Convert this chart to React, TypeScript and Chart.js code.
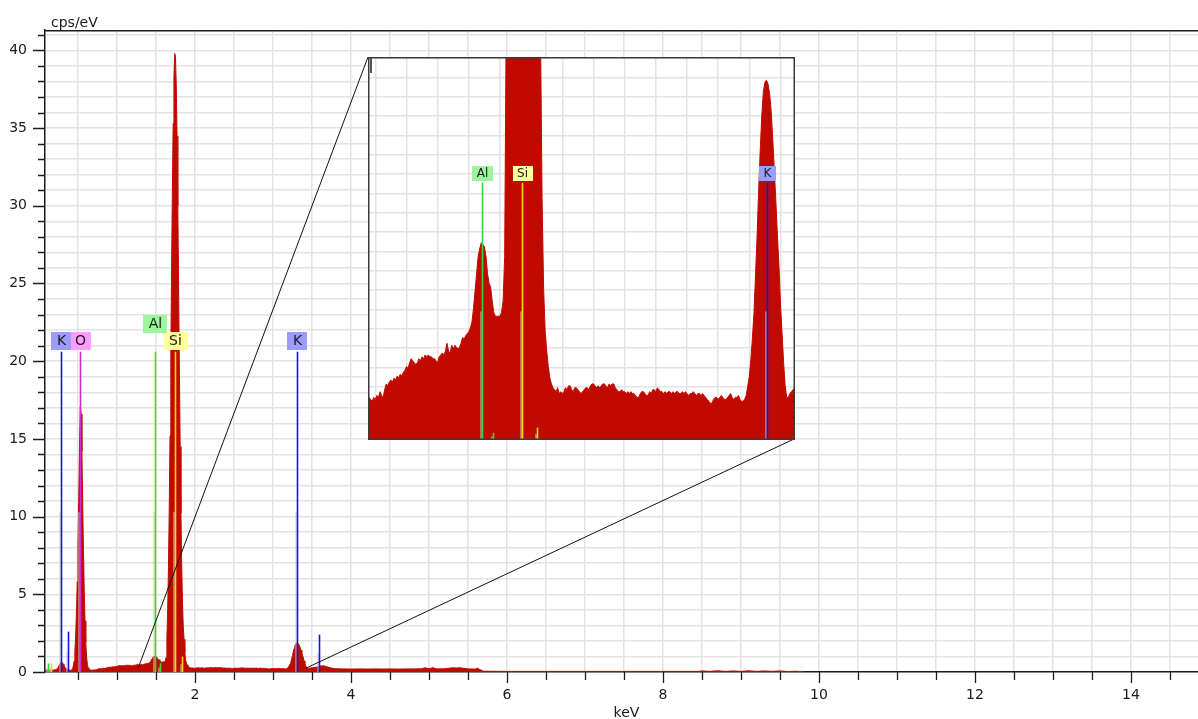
import { useEffect, useRef } from 'react';
import { Chart, registerables } from 'chart.js';

Chart.register(...registerables);
Chart.defaults.font.family = "'DejaVu Sans', sans-serif";

// ---- spectrum: 10 eV channels from 0.08 keV to 3.50 keV ----
const CHANNEL_START_KEV = 0.08;
const CHANNEL_WIDTH_KEV = 0.01;
const lowEnergyCounts = [
  0.12, 0.12,
  0.13, 0.12, 0.13, 0.12, 0.11, 0.12, 0.12, 0.13, 0.12, 0.13, // 0.10
  0.14, 0.15, 0.17, 0.20, 0.26, 0.34, 0.44, 0.54, 0.61, 0.64, // 0.20
  0.60, 0.52, 0.42, 0.33, 0.25, 0.19, 0.15, 0.13, 0.12, 0.12, // 0.30
  0.11, 0.12, 0.13, 0.20, 0.38, 0.70, 1.3, 2.3, 3.8, 5.8, // 0.40
  8.3, 11.3, 14.6, 17.1, 16.6, 14.2, 11.0, 7.9, 5.3, 3.3, // 0.50
  1.9, 1.0, 0.5, 0.27, 0.18, 0.14, 0.13, 0.13, 0.12, 0.13, // 0.60
  0.13, 0.14, 0.13, 0.14, 0.15, 0.16, 0.22, 0.21, 0.20, 0.22, // 0.70
  0.21, 0.23, 0.22, 0.25, 0.23, 0.22, 0.26, 0.29, 0.28, 0.30, // 0.80
  0.31, 0.30, 0.32, 0.31, 0.33, 0.32, 0.34, 0.33, 0.35, 0.36, // 0.90
  0.38, 0.37, 0.40, 0.42, 0.41, 0.40, 0.39, 0.40, 0.42, 0.41, // 1.00
  0.43, 0.42, 0.44, 0.43, 0.44, 0.43, 0.43, 0.42, 0.42, 0.41, // 1.10
  0.40, 0.43, 0.44, 0.45, 0.44, 0.46, 0.50, 0.46, 0.45, 0.49, // 1.20
  0.47, 0.49, 0.48, 0.47, 0.48, 0.50, 0.53, 0.52, 0.54, 0.55, // 1.30
  0.56, 0.58, 0.61, 0.68, 0.77, 0.86, 0.95, 0.99, 1.02, 1.01, // 1.40
  1.00, 0.95, 0.86, 0.81, 0.79, 0.72, 0.66, 0.64, 0.64, 0.64, // 1.50
  0.64, 0.66, 0.72, 0.95, 2.2, 4.0, 6.8, 10.5, 15.2, 20.5, // 1.60
  26.0, 31.0, 35.3, 38.3, 39.8, 39.6, 37.8, 34.5, 30.0, 24.8, // 1.70
  19.5, 14.5, 10.2, 6.8, 4.4, 2.9, 2.1, 1.25, 0.78, 0.56, // 1.80
  0.46, 0.38, 0.32, 0.29, 0.27, 0.26, 0.25, 0.27, 0.24, 0.25, // 1.90
  0.24, 0.25, 0.27, 0.26, 0.28, 0.28, 0.26, 0.25, 0.27, 0.27, // 2.00
  0.26, 0.25, 0.24, 0.25, 0.26, 0.27, 0.27, 0.26, 0.28, 0.29, // 2.10
  0.29, 0.28, 0.27, 0.28, 0.27, 0.28, 0.29, 0.29, 0.28, 0.27, // 2.20
  0.29, 0.28, 0.29, 0.29, 0.27, 0.26, 0.25, 0.25, 0.26, 0.25, // 2.30
  0.25, 0.24, 0.25, 0.24, 0.25, 0.24, 0.24, 0.23, 0.22, 0.22, // 2.40
  0.24, 0.25, 0.25, 0.24, 0.23, 0.23, 0.25, 0.24, 0.26, 0.26, // 2.50
  0.25, 0.27, 0.26, 0.25, 0.25, 0.24, 0.25, 0.24, 0.25, 0.25, // 2.60
  0.24, 0.25, 0.24, 0.25, 0.25, 0.24, 0.24, 0.25, 0.24, 0.25, // 2.70
  0.24, 0.23, 0.24, 0.24, 0.25, 0.24, 0.23, 0.24, 0.24, 0.23, // 2.80
  0.24, 0.23, 0.22, 0.21, 0.20, 0.19, 0.19, 0.21, 0.22, 0.22, // 2.90
  0.21, 0.22, 0.23, 0.22, 0.21, 0.21, 0.22, 0.23, 0.24, 0.22, // 3.00
  0.21, 0.22, 0.22, 0.23, 0.21, 0.20, 0.20, 0.21, 0.23, 0.28, // 3.10
  0.33, 0.42, 0.53, 0.66, 0.86, 1.06, 1.30, 1.50, 1.68, 1.80, // 3.20
  1.85, 1.86, 1.84, 1.79, 1.70, 1.56, 1.40, 1.24, 1.06, 0.90, // 3.30
  0.70, 0.55, 0.40, 0.28, 0.22, 0.22, 0.24, 0.25, 0.26, 0.27, // 3.40
  0.26, // 3.50
];

// ---- spectrum above 3.5 keV (coarser sampling) ----
const tailEnergies = [
  3.55, 3.6, 3.65, 3.7, 3.75, 3.8, 3.9, 4.0, 4.1, 4.2,
  4.3, 4.4, 4.5, 4.6, 4.7, 4.8, 4.9, 4.95, 5.0, 5.05,
  5.1, 5.2, 5.3, 5.35, 5.4, 5.5, 5.6, 5.62, 5.65, 5.7,
  6.0, 6.5, 7.0, 7.5, 8.0, 8.45, 8.5, 8.6, 8.7, 8.8,
  8.9, 9.0, 9.1, 9.2, 9.3, 9.4, 9.5, 9.6, 9.7, 9.8,
];
const tailCounts = [
  0.3, 0.38, 0.4, 0.32, 0.25, 0.21, 0.2, 0.19, 0.2, 0.19,
  0.2, 0.19, 0.2, 0.19, 0.2, 0.2, 0.21, 0.27, 0.21, 0.28,
  0.2, 0.21, 0.27, 0.26, 0.27, 0.2, 0.19, 0.25, 0.16, 0.05,
  0.04, 0.04, 0.04, 0.04, 0.04, 0.04, 0.07, 0.04, 0.08, 0.04,
  0.07, 0.04, 0.08, 0.04, 0.07, 0.04, 0.07, 0.03, 0.05, 0.02,
];

// ---- identified element lines ----
const markerElements = ['Al', 'Si', 'K', 'K', 'O', 'Al', 'Al', 'Si', 'Si', 'K', 'K'];
const markerEnergies = [0.12, 0.148, 0.277, 0.37, 0.525, 1.487, 1.557, 1.74, 1.836, 3.313, 3.59];
const markerRelHeights = [0.027, 0.027, 1, 0.126, 1, 1, 0.028, 1, 0.048, 1, 0.117];
const markerLabelled = [false, false, true, false, true, true, false, true, false, true, false];

const lineColors: Record<string, string> = { K: '#1414e8', O: '#d22ad2', Al: '#2fdc2f', Si: '#f2dc00' };
const labelColors: Record<string, string> = { K: '#9c9cff', O: '#ff9cff', Al: '#9cf79c', Si: '#ffff9c' };

// ---- axes ----
const MAIN_X_RANGE = [0.077, 14.86];
const MAIN_Y_RANGE = [0, 41.31];
const MAIN_MARKER_TOP = 20.6;
const INSET_X_RANGE = [0.753, 3.493];
const INSET_Y_RANGE = [0, 1.98];
const INSET_Y_GRID_FIRST = 0.075;
const INSET_MARKER_TOP = 1.33;
const ZOOM_ANCHORS = [1.27, 3.42];
const ZOOM_ANCHOR_LEVEL = 0.24;

const INSET_BOX = { left: 368, top: 57, width: 427, height: 383 };

const RED = '#c00a00';
const GRID = '#e3e3e3';
const AXIS = '#1c1c1c';
const TEXT = '#1a1a1a';

const spectrumPoints = [
  ...lowEnergyCounts.map((c, i) => ({
    x: Math.round((CHANNEL_START_KEV + i * CHANNEL_WIDTH_KEV) * 100) / 100,
    y: c,
  })),
  ...tailEnergies.map((e, i) => ({ x: e, y: tailCounts[i] })),
];

function spectrumDataset() {
  return {
    data: spectrumPoints,
    fill: 'origin',
    backgroundColor: RED,
    borderColor: RED,
    borderWidth: 1,
    pointRadius: 0,
    tension: 0,
  };
}

function drawMarkers(chart: any, markerTop: number, fontSize: number, pad: number, boxH: number, rowStep: number) {
  const { ctx, chartArea: a, scales } = chart;
  const x = scales.x;
  const y = scales.y;
  const base = y.getPixelForValue(0);
  const labelled: { px: number; top: number; el: string }[] = [];
  ctx.save();
  ctx.beginPath();
  ctx.rect(a.left, a.top, a.right - a.left, a.bottom - a.top);
  ctx.clip();
  markerEnergies.forEach((e, i) => {
    if (e < x.min || e > x.max) return;
    const el = markerElements[i];
    const px = Math.round(x.getPixelForValue(e)) + 0.5;
    const top = y.getPixelForValue(markerRelHeights[i] * markerTop);
    const half = y.getPixelForValue(markerRelHeights[i] * markerTop * 0.5);
    ctx.lineWidth = 1;
    ctx.strokeStyle = '#c9c9c9';
    ctx.beginPath();
    ctx.moveTo(px - 1.5, base);
    ctx.lineTo(px - 1.5, half);
    ctx.stroke();
    ctx.lineWidth = 1.6;
    ctx.strokeStyle = lineColors[el];
    ctx.beginPath();
    ctx.moveTo(px, base);
    ctx.lineTo(px, top);
    ctx.stroke();
    if (markerLabelled[i]) labelled.push({ px, top, el });
  });

  ctx.font = `${fontSize}px 'DejaVu Sans', sans-serif`;
  labelled.sort((p, q) => q.px - p.px);
  const placed: { l: number; r: number; row: number }[] = [];
  for (const it of labelled) {
    const w = ctx.measureText(it.el).width + 2 * pad;
    const l = it.px - w / 2;
    const r = l + w;
    let row = 0;
    while (placed.some((p) => p.row === row && l < p.r - 3 && r > p.l + 3)) row++;
    placed.push({ l, r, row });
    const bottom = Math.round(it.top - 2 - row * rowStep);
    ctx.fillStyle = labelColors[it.el];
    ctx.fillRect(Math.round(l), bottom - boxH, Math.round(w), boxH);
    ctx.fillStyle = TEXT;
    ctx.textAlign = 'center';
    ctx.textBaseline = 'middle';
    ctx.fillText(it.el, it.px, bottom - boxH / 2 + 0.5);
  }
  ctx.restore();
}

const mainDecor = {
  id: 'mainDecor',
  afterDatasetsDraw(chart: any) {
    const { ctx, chartArea: a, scales } = chart;
    const x = scales.x;
    const y = scales.y;
    drawMarkers(chart, MAIN_MARKER_TOP, 14, 5.5, 18, 17);

    // lines tying the zoomed panel to the stretch of axis it enlarges
    ctx.save();
    ctx.strokeStyle = '#111';
    ctx.lineWidth = 1;
    ctx.beginPath();
    ctx.moveTo(INSET_BOX.left, INSET_BOX.top);
    ctx.lineTo(x.getPixelForValue(ZOOM_ANCHORS[0]), y.getPixelForValue(ZOOM_ANCHOR_LEVEL));
    ctx.moveTo(INSET_BOX.left + INSET_BOX.width - 1, INSET_BOX.top + INSET_BOX.height - 1);
    ctx.lineTo(x.getPixelForValue(ZOOM_ANCHORS[1]), y.getPixelForValue(ZOOM_ANCHOR_LEVEL));
    ctx.stroke();
    ctx.restore();

    // top frame line
    ctx.save();
    ctx.strokeStyle = AXIS;
    ctx.lineWidth = 1.5;
    ctx.beginPath();
    ctx.moveTo(a.left, a.top + 0.75);
    ctx.lineTo(a.right, a.top + 0.75);
    ctx.stroke();
    ctx.restore();
  },
  afterDraw(chart: any) {
    const { ctx, chartArea: a, scales } = chart;
    const x = scales.x;
    const y = scales.y;
    ctx.save();
    ctx.strokeStyle = AXIS;
    ctx.lineWidth = 1.3;
    ctx.beginPath();
    for (const t of x.ticks) {
      const px = Math.round(x.getPixelForValue(t.value)) + 0.5;
      const major = Math.abs(t.value - Math.round(t.value / 2) * 2) < 1e-6;
      ctx.moveTo(px, a.bottom);
      ctx.lineTo(px, a.bottom + (major ? 11 : 8));
    }
    for (const t of y.ticks) {
      const py = Math.round(y.getPixelForValue(t.value)) + 0.5;
      const major = Math.abs(t.value - Math.round(t.value / 5) * 5) < 1e-6;
      ctx.moveTo(a.left, py);
      ctx.lineTo(a.left - (major ? 12 : 7), py);
    }
    ctx.stroke();

    ctx.fillStyle = TEXT;
    ctx.font = "14px 'DejaVu Sans', sans-serif";
    ctx.textBaseline = 'alphabetic';
    ctx.textAlign = 'left';
    ctx.fillText('cps/eV', a.left + 6, 27);
    ctx.textAlign = 'center';
    ctx.fillText('keV', (a.left + a.right) / 2 + 5, 717);
    ctx.restore();
  },
};

const insetDecor = {
  id: 'insetDecor',
  afterDatasetsDraw(chart: any) {
    const { ctx, width, height } = chart;
    drawMarkers(chart, INSET_MARKER_TOP, 12, 4.5, 15, 14);
    ctx.save();
    ctx.strokeStyle = '#3a3a3a';
    ctx.lineWidth = 1.5;
    ctx.strokeRect(0.75, 0.75, width - 1.5, height - 1.5);
    ctx.strokeStyle = '#555';
    ctx.lineWidth = 2;
    ctx.beginPath();
    ctx.moveTo(3, 1);
    ctx.lineTo(3, 16);
    ctx.stroke();
    ctx.restore();
  },
};

function mainConfig(): any {
  const tickFont = { size: 14, family: "'DejaVu Sans', sans-serif" };
  return {
    type: 'line',
    data: { datasets: [spectrumDataset()] },
    options: {
      animation: false,
      responsive: false,
      maintainAspectRatio: false,
      parsing: false,
      layout: { padding: { top: 30, right: 0, bottom: 0, left: 0 } },
      plugins: { legend: { display: false }, tooltip: { enabled: false } },
      scales: {
        x: {
          type: 'linear',
          min: MAIN_X_RANGE[0],
          max: MAIN_X_RANGE[1],
          afterFit: (s: any) => { s.height = 47; },
          grid: { color: GRID, lineWidth: 1.5, drawTicks: false },
          border: { color: AXIS, width: 1.5 },
          ticks: {
            stepSize: 0.5,
            includeBounds: false,
            autoSkip: false,
            maxRotation: 0,
            padding: 15,
            color: TEXT,
            font: tickFont,
            callback: (v: number) =>
              Math.abs(v - Math.round(v / 2) * 2) < 1e-6 ? String(Math.round(v)) : '',
          },
        },
        y: {
          type: 'linear',
          min: MAIN_Y_RANGE[0],
          max: MAIN_Y_RANGE[1],
          afterFit: (s: any) => { s.width = 45; },
          grid: { color: GRID, lineWidth: 1.5, drawTicks: false },
          border: { color: AXIS, width: 1.5 },
          ticks: {
            stepSize: 1,
            includeBounds: false,
            autoSkip: false,
            padding: 18,
            color: TEXT,
            font: tickFont,
            callback: (v: number) =>
              Math.abs(v - Math.round(v / 5) * 5) < 1e-6 ? String(Math.round(v)) : '',
          },
        },
      },
    },
    plugins: [mainDecor],
  };
}

function insetConfig(): any {
  return {
    type: 'line',
    data: { datasets: [spectrumDataset()] },
    options: {
      animation: false,
      responsive: false,
      maintainAspectRatio: false,
      parsing: false,
      layout: { padding: 0 },
      plugins: { legend: { display: false }, tooltip: { enabled: false } },
      scales: {
        x: {
          type: 'linear',
          min: INSET_X_RANGE[0],
          max: INSET_X_RANGE[1],
          afterFit: (s: any) => { s.height = 0; },
          grid: { color: GRID, lineWidth: 1.5, drawTicks: false },
          border: { display: false },
          ticks: { display: false, stepSize: 0.2, includeBounds: false, autoSkip: false },
        },
        y: {
          type: 'linear',
          min: INSET_Y_RANGE[0],
          max: INSET_Y_RANGE[1],
          afterFit: (s: any) => { s.width = 0; },
          afterBuildTicks: (s: any) => {
            const ticks = [];
            for (let v = INSET_Y_GRID_FIRST; v < INSET_Y_RANGE[1]; v += 0.1) ticks.push({ value: v });
            s.ticks = ticks;
          },
          grid: { color: GRID, lineWidth: 1.5, drawTicks: false },
          border: { display: false },
          ticks: { display: false, autoSkip: false },
        },
      },
    },
    plugins: [insetDecor],
  };
}

export default function App() {
  const mainRef = useRef<HTMLCanvasElement>(null);
  const insetRef = useRef<HTMLCanvasElement>(null);

  useEffect(() => {
    const main = new Chart(mainRef.current as HTMLCanvasElement, mainConfig());
    const inset = new Chart(insetRef.current as HTMLCanvasElement, insetConfig());
    return () => {
      main.destroy();
      inset.destroy();
    };
  }, []);

  return (
    <div
      style={{
        position: 'absolute',
        left: 0,
        top: 0,
        width: 1198,
        height: 719,
        background: '#fff',
        overflow: 'hidden',
      }}
    >
      <canvas
        ref={mainRef}
        width={1198}
        height={719}
        style={{ position: 'absolute', left: 0, top: 0, width: 1198, height: 719 }}
      />
      <canvas
        ref={insetRef}
        width={INSET_BOX.width}
        height={INSET_BOX.height}
        style={{
          position: 'absolute',
          left: INSET_BOX.left,
          top: INSET_BOX.top,
          width: INSET_BOX.width,
          height: INSET_BOX.height,
          background: '#fff',
        }}
      />
    </div>
  );
}
